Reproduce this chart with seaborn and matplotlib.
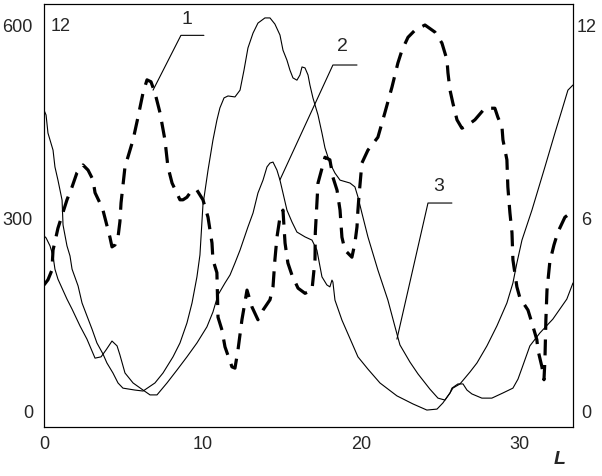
import numpy as np
import matplotlib
matplotlib.use("Agg")
import matplotlib.pyplot as plt
import seaborn as sns

# curve 1 (dashed, left scale 0-600)
x1 = [0.00, 0.25, 0.50, 0.57, 0.69, 0.88, 1.14, 1.45, 1.77, 2.08, 2.46, 2.78, 3.09, 3.22, 3.53, 3.72,
      4.16, 4.29, 4.48, 4.67, 4.79, 4.86, 5.11, 5.62, 5.93, 6.25, 6.50, 6.75, 7.00, 7.32, 7.63, 7.82,
      8.08, 8.58, 8.77, 9.02, 9.34, 9.65, 10.03, 10.35, 10.60, 10.66, 10.91, 10.98, 11.23, 11.42, 11.86,
      12.05, 12.24, 12.49, 12.81, 13.12, 13.50, 13.82, 14.26, 14.45, 14.57, 14.70, 14.89, 15.08, 15.21,
      15.39, 15.65, 16.03, 16.47, 16.91, 17.10, 17.12, 17.29, 17.73, 18.04, 18.23, 18.49, 18.68, 18.80,
      18.99, 19.43, 19.62, 19.75, 19.81, 19.87, 20.06, 20.44, 21.07, 21.51, 21.96, 22.33, 22.59, 22.97,
      23.41, 24.04, 24.67, 25.11, 25.43, 25.49, 25.62, 25.80, 26.06, 26.37, 26.75, 27.19, 27.82, 28.45,
      28.64, 28.90, 28.96, 29.21, 29.27, 29.40, 29.53, 29.59, 29.84, 30.03, 30.54, 30.79, 31.10, 31.17,
      31.42, 31.55, 31.61, 31.67, 31.74, 31.92, 32.18, 32.43, 32.87, 33.31]
y1 = [197, 205, 220, 251, 264, 285, 305, 329, 349, 371, 383, 375, 360, 340, 324, 313,
      271, 256, 259, 271, 295, 324, 380, 422, 457, 495, 515, 512, 495, 464, 422, 380,
      355, 329, 329, 333, 344, 344, 329, 302, 262, 236, 216, 147, 127, 101, 70,
      68, 96, 143, 189, 163, 143, 158, 174, 194, 236, 271, 302, 313, 262,
      231, 212, 192, 184, 189, 236, 278, 355, 395, 391, 364, 344, 313, 271,
      251, 240, 262, 287, 313, 333, 386, 406, 426, 464, 504, 541, 561, 581,
      592, 600, 589, 572, 546, 526, 499, 479, 453, 440, 445, 453, 471, 471,
      457, 442, 422, 391, 349, 309, 278, 236, 194, 177, 158, 138, 112, 96,
      70, 50, 81, 143, 189, 233, 259, 279, 302, 310]

# curve 2 (thin, right scale 0-12)
x2 = [0.00, 0.13, 0.38, 0.57, 0.69, 0.88, 1.45, 1.77, 2.27, 2.71, 3.22, 3.60, 3.91, 4.29, 4.61, 4.79,
      5.11, 5.62, 6.25, 6.69, 7.13, 7.76, 8.39, 9.02, 9.65, 10.28, 10.66, 10.98, 11.42, 11.74, 12.05,
      12.37, 12.87, 13.19, 13.50, 13.82, 14.07, 14.26, 14.45, 14.70, 14.89, 15.08, 15.33, 15.65, 15.96,
      16.47, 16.91, 17.22, 17.54, 17.85, 18.04, 18.17, 18.23, 18.36, 18.80, 19.43, 19.81, 20.44, 21.20,
      22.27, 23.28, 24.16, 24.80, 25.17, 25.62, 25.80, 26.25, 26.88, 27.32, 27.95, 28.58, 29.21, 29.59,
      29.84, 30.16, 30.79, 31.61, 32.24, 32.68, 33.06, 33.38]
y2 = [5.46, 5.40, 5.15, 4.84, 4.43, 4.12, 3.50, 3.19, 2.67, 2.26, 1.67, 1.71, 1.92, 2.20, 2.05, 1.77,
      1.21, 0.90, 0.68, 0.53, 0.53, 0.90, 1.30, 1.71, 2.14, 2.64, 3.10, 3.63, 4.00, 4.25, 4.62,
      5.02, 5.74, 6.17, 6.79, 7.19, 7.60, 7.72, 7.75, 7.50, 7.19, 6.79, 6.26, 5.89, 5.58,
      5.43, 5.33, 5.02, 4.19, 3.94, 3.88, 4.09, 4.03, 3.47, 2.85, 2.14, 1.71, 1.33, 0.90,
      0.50, 0.25, 0.06, 0.09, 0.28, 0.59, 0.74, 0.87, 1.24, 1.52, 2.05, 2.67, 3.38, 4.00,
      4.62, 5.33, 6.26, 7.60, 8.65, 9.36, 9.98, 10.14]

# curve 3 (thin, right scale 0-12)
x3 = [0.00, 0.13, 0.25, 0.57, 0.69, 0.88, 1.14, 1.20, 1.45, 1.64, 1.77, 2.15, 2.40, 2.71, 3.03, 3.34,
      3.72, 3.97, 4.35, 4.67, 4.98, 5.74, 6.25, 7.00, 7.51, 8.14, 8.58, 9.02, 9.34, 9.65, 9.84, 10.03,
      10.35, 10.66, 10.91, 11.10, 11.36, 11.61, 12.05, 12.37, 12.62, 12.87, 13.19, 13.50, 13.94, 14.26,
      14.57, 14.89, 15.08, 15.33, 15.52, 15.71, 15.96, 16.15, 16.28, 16.47, 16.66, 16.78, 16.97, 17.29,
      17.54, 17.73, 18.04, 18.36, 18.68, 19.31, 19.62, 19.81, 20.06, 20.44, 21.07, 21.70, 22.15, 22.46,
      23.09, 23.60, 24.35, 24.86, 25.30, 25.62, 25.74, 26.12, 26.44, 26.69, 27.00, 27.63, 28.26, 28.96,
      29.59, 29.91, 30.16, 30.66, 31.29, 32.11, 32.99, 33.38]
y3 = [9.36, 9.21, 8.65, 8.12, 7.60, 7.19, 6.57, 5.80, 5.15, 4.84, 4.43, 3.91, 3.38, 2.98, 2.57, 2.14,
      1.80, 1.52, 1.21, 0.90, 0.74, 0.68, 0.65, 0.90, 1.21, 1.71, 2.14, 2.76, 3.38, 4.19, 4.87, 6.42,
      7.50, 8.43, 9.05, 9.43, 9.74, 9.80, 9.77, 9.98, 10.60, 11.29, 11.75, 12.06, 12.22, 12.22,
      12.03, 11.69, 11.22, 10.91, 10.60, 10.36, 10.29, 10.45, 10.70, 10.67, 10.45, 10.14, 9.74, 9.21,
      8.65, 8.19, 7.72, 7.41, 7.19, 7.10, 6.98, 6.67, 6.17, 5.43, 4.40, 3.47, 2.64, 2.08,
      1.55, 1.18, 0.71, 0.43, 0.37, 0.59, 0.74, 0.87, 0.87, 0.68, 0.56, 0.43, 0.43, 0.59,
      0.74, 1.02, 1.36, 2.05, 2.45, 2.88, 3.50, 4.00]

xticks = [0, 10, 20, 30]
left_ticks = [0, 300, 600]
right_ticks = [0, 6, 12]

# curve labels: text, text position, leader line
curve_labels = [
    ("1", (9.0, 608), [(6.88, 499), (8.64, 584), (10.09, 584)]),
    ("2", (18.86, 566), [(14.89, 360), (18.23, 538), (19.75, 538)]),
    ("3", (24.9, 350), [(22.27, 113), (24.23, 324), (25.74, 324)]),
]

sns.set_style("white", {"axes.edgecolor": "black"})
plt.rcParams['font.family'] = ['Liberation Sans', 'DejaVu Sans']
plt.rcParams['font.size'] = 13

fig = plt.figure(figsize=(6.02, 4.76), dpi=100)
ax = fig.add_axes([0.0731, 0.1029, 0.8787, 0.8887])
ax2 = ax.twinx()

ylo, yhi = -23.3, 632.6
ax.set_xlim(0, 33.38)
ax.set_ylim(ylo, yhi)
ax2.set_ylim(ylo / 50, yhi / 50)

sns.lineplot(x=x1, y=y1, ax=ax, color="black", lw=2.3, sort=False, estimator=None,
             linestyle=(0, (5, 3)))
sns.lineplot(x=x2, y=y2, ax=ax2, color="black", lw=0.8, sort=False, estimator=None)
sns.lineplot(x=x3, y=y3, ax=ax2, color="black", lw=0.8, sort=False, estimator=None)

for txt, pos, pts in curve_labels:
    xs, ys = zip(*pts)
    ax.plot(xs, ys, color="black", lw=0.8)
    ax.text(pos[0], pos[1], txt, ha="center", va="center", fontsize=14)

ax.set_xticks(xticks)
ax.set_yticks(left_ticks)
ax.set_yticks([300], minor=True)
ax.tick_params(axis="both", which="major", length=0)
ax.tick_params(axis="x", pad=6.5)
ax.tick_params(axis="y", pad=8)
ax.tick_params(axis="y", which="minor", left=True, length=4, width=0.8, color="black")

ax2.set_yticks(right_ticks)
ax2.set_yticks([6], minor=True)
ax2.tick_params(axis="y", which="major", length=0, pad=9.5)
ax2.tick_params(axis="y", which="minor", right=True, length=6, width=0.8, color="black")
for lab in ax2.get_yticklabels():
    lab.set_horizontalalignment("center")

for a in (ax, ax2):
    for s in a.spines.values():
        s.set_color("black")
        s.set_linewidth(0.8)

ax.text(0.012, 0.946, "12", transform=ax.transAxes, ha="left", va="center", fontsize=13)
ax.text(0.975, -0.076, "L", transform=ax.transAxes, ha="center", va="center",
        fontsize=14, fontweight="bold", fontstyle="italic")

fig.savefig("out.png", dpi=100)
